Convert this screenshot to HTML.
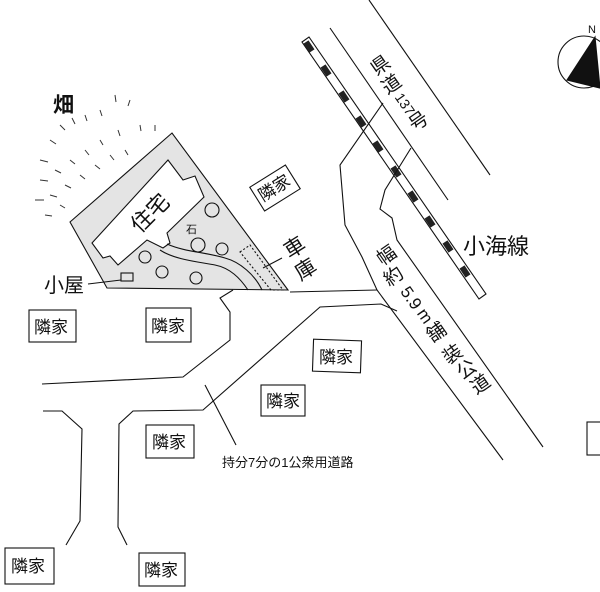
<!DOCTYPE html>
<html><head><meta charset="utf-8"><style>
html,body{margin:0;padding:0;background:#fff;}
svg{display:block}
text{font-family:"Liberation Sans","Noto Sans CJK JP",sans-serif;fill:#111}
.c{dominant-baseline:central;text-anchor:middle}
</style></head><body>
<svg width="600" height="592" viewBox="0 0 600 592" xmlns="http://www.w3.org/2000/svg">
<g fill="none" stroke="#111" stroke-width="1.1">
<line x1="369" y1="0" x2="490" y2="175"/>
<line x1="330" y1="28" x2="448" y2="200"/>
<polygon points="302,42 309,37 486,294 479,299" fill="#fff"/>
</g>
<g stroke="#222" stroke-width="6">
<line x1="306" y1="42" x2="312" y2="51"/>
<line x1="323" y1="66" x2="329" y2="75"/>
<line x1="341" y1="92" x2="347" y2="101"/>
<line x1="358" y1="117" x2="364" y2="126"/>
<line x1="375" y1="142" x2="381" y2="151"/>
<line x1="393" y1="167" x2="399" y2="176"/>
<line x1="410" y1="192" x2="416" y2="201"/>
<line x1="427" y1="217" x2="433" y2="226"/>
<line x1="445" y1="242" x2="451" y2="251"/>
<line x1="462" y1="267" x2="468" y2="276"/>
</g>
<g fill="none" stroke="#111" stroke-width="1.1">
<polyline points="383,103 340,165 345,225 362,257 377,290 503,460"/>
<polyline points="411,148 385,190 380,209 392,218 397,240 543,447"/>
<polyline points="290,292 377,290"/>
<polyline points="233,290 220,298 230,312 230,340 183,377 42,384"/>
<polyline points="43,411 62,411 82,429 80,521 66,545"/>
<polyline points="127,545 118,527 119,424 133,411 203,410 320,307 381,304 397,311"/>
<line x1="205" y1="385" x2="236" y2="445"/>
<polygon points="70,222 172,133 288,290 107,288" fill="#e4e4e4"/>
<polygon points="92,243 168,160 183,180 195,176 204,197 167,233 170,243 163,248 147,240 118,265 110,256 103,258" fill="#fff"/>
<path d="M160,250 C175,260 200,262 215,265 C230,268 240,278 248,290"/>
<path d="M167,244 C185,252 205,252 225,258 C240,262 255,275 262,290"/>
<polygon points="240,252 250,245 283,290 271,290" stroke-dasharray="2,2"/>
<line x1="263" y1="268" x2="282" y2="258"/>
<circle cx="212" cy="210" r="7"/><circle cx="222" cy="249" r="6"/>
<circle cx="198" cy="245" r="7"/><circle cx="145" cy="257" r="6"/>
<circle cx="162" cy="272" r="6"/><circle cx="196" cy="278" r="6"/>
<rect x="121" y="273" width="12" height="8"/>
<line x1="88" y1="284" x2="121" y2="280"/>
<circle cx="584" cy="62" r="26"/>
<polygon points="595,37 567,80 600,88" fill="#111"/>
<rect x="29" y="310" width="47" height="32"/>
<rect x="146" y="308" width="45" height="34"/>
<rect x="313" y="340" width="48" height="32" transform="rotate(2 337 356)"/>
<rect x="261" y="385" width="44" height="31"/>
<rect x="146" y="425" width="48" height="33"/>
<rect x="5" y="548" width="49" height="36"/>
<rect x="139" y="553" width="46" height="33"/>
<rect x="254" y="174" width="42" height="28" transform="rotate(-32 275 188)"/>
<rect x="587" y="422" width="20" height="33"/>
</g>
<g stroke="#333" stroke-width="1" fill="none">
<path d="M40,160 l8,2 M50,140 l6,4 M60,125 l5,5 M72,118 l3,6 M85,115 l2,6 M100,110 l2,6 M115,95 l1,7 M130,100 l-2,6 M40,180 l8,1 M55,170 l6,3 M70,160 l5,4 M85,150 l4,5 M100,140 l3,5 M118,130 l2,6 M140,125 l1,6 M155,125 l0,6 M35,200 l9,0 M50,195 l7,2 M65,185 l6,3 M80,175 l5,4 M95,165 l5,4 M110,155 l4,5 M125,150 l3,5 M45,215 l7,1 M60,205 l5,3"/>
</g>
<text x="53" y="112" font-size="21" font-weight="bold">畑</text>
<text x="44" y="292" font-size="20">小屋</text>
<text x="186" y="233" font-size="11">石</text>
<text font-size="22" transform="translate(140,234) rotate(-45)">住宅</text>
<g font-size="21">
<text class="c" transform="translate(295,248) rotate(-32)">車</text>
<text class="c" transform="translate(306,270) rotate(-32)">庫</text>
</g>
<g font-size="19">
<text class="c" transform="translate(381,66) rotate(-35)">県</text>
<text class="c" transform="translate(392,85) rotate(-35)">道</text>
<text class="c" font-size="14" transform="translate(405,104) rotate(55)">137</text>
<text class="c" transform="translate(419,122) rotate(-35)">号</text>
</g>
<text x="463" y="254" font-size="22">小海線</text>
<g font-size="19">
<text class="c" transform="translate(387,256) rotate(-35)">幅</text>
<text class="c" transform="translate(394,277) rotate(-35)">約</text>
<text class="c" font-size="17" transform="translate(411,298) rotate(55)">5.9</text>
<text class="c" font-size="17" transform="translate(425,316) rotate(55)">m</text>
<text class="c" transform="translate(437,333) rotate(-35)">舗</text>
<text class="c" transform="translate(453,355) rotate(-35)">装</text>
<text class="c" transform="translate(467,370) rotate(-35)">公</text>
<text class="c" transform="translate(481,385) rotate(-35)">道</text>
</g>
<text x="222" y="467" font-size="13">持分7分の1公衆用道路</text>
<text x="588" y="33" font-size="11">N</text>
<g font-size="17">
<text x="34" y="333">隣家</text>
<text x="151" y="332">隣家</text>
<text x="319" y="363">隣家</text>
<text x="266" y="407">隣家</text>
<text x="152" y="448">隣家</text>
<text x="11" y="572">隣家</text>
<text x="144" y="576">隣家</text>
<text transform="translate(263,202) rotate(-32)">隣家</text>
</g>
</svg>
</body></html>
